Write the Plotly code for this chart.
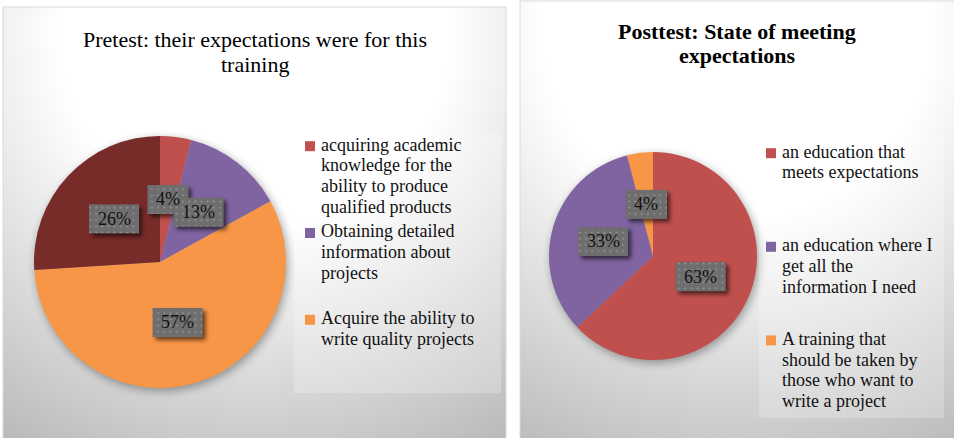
import base64
import math
import plotly.graph_objects as go

W, H = 954, 438

# ---------------- data ----------------
pre_title_lines = ["Pretest: their expectations were for this", "training"]
pre_labels = [
    "acquiring academic<br>knowledge for the<br>ability to produce<br>qualified products",
    "Obtaining detailed<br>information about<br>projects",
    "Acquire the ability to<br>write quality projects",
    "",
]
pre_values = [4, 13, 57, 26]
pre_colors = ["#C0504D", "#8064A2", "#F79646", "#772C2A"]

post_title_lines = ["Posttest: State of meeting", "expectations"]
post_labels = [
    "an education that<br>meets expectations",
    "an education where I<br>get all the<br>information I need",
    "A training that<br>should be taken by<br>those who want to<br>write a project",
]
post_values = [63, 33, 4]
post_colors = ["#C0504D", "#8064A2", "#F79646"]

# ---------------- layout constants (pixels) ----------------
FONT = "Liberation Serif"
panels = [
    dict(title=pre_title_lines, bold=False, labels=pre_labels, values=pre_values,
         colors=pre_colors, cx=160, cy=262, r=126,
         rect=(3, 7, 503, 440), tx=255, tbase=[47, 72],
         leg_rect=(294, 134, 207, 259), leg_x=319, leg_base=150.7,
         leg_slot=86.8, line_h=20.9),
    dict(title=post_title_lines, bold=True, labels=post_labels, values=post_values,
         colors=post_colors, cx=653, cy=256, r=104,
         rect=(520, 1, 440, 440), tx=737, tbase=[39, 63],
         leg_rect=(759, 137, 185, 281), leg_x=780, leg_base=157.7,
         leg_slot=93.6, line_h=20.8),
]


def X(px):
    return px / W


def Y(py):
    return 1 - py / H


fig = go.Figure()
annotations = []
shapes = []

bg_parts = []
bg_defs = []
up_defs = []
up_parts = []

bg_parts.append(f'<rect x="0" y="0" width="{W}" height="{H}" fill="#ffffff"/>')
bg_defs.append('<filter id="pshadow" x="-30%" y="-30%" width="160%" height="160%">'
               '<feGaussianBlur stdDeviation="5"/></filter>')
up_defs.append('<filter id="lshadow" x="-50%" y="-50%" width="200%" height="200%">'
               '<feGaussianBlur stdDeviation="2.2"/></filter>')
up_defs.append('<pattern id="dots" width="6.2" height="6.2" patternUnits="userSpaceOnUse">'
               '<rect width="6.2" height="6.2" fill="#6e6e6e"/>'
               '<rect x="2.3" y="2.3" width="1.6" height="1.6" fill="#9b9b9b"/></pattern>')

FS = 18
for i, p in enumerate(panels):
    x0, y0, w, h = p["rect"]
    pcx = x0 + w / 2 if i == 0 else 737
    bg_defs.append(
        f'<radialGradient id="g{i}" gradientUnits="userSpaceOnUse" cx="{pcx}" cy="{y0 + 25}" r="540">'
        '<stop offset="0" stop-color="#ffffff"/>'
        '<stop offset="0.36" stop-color="#ffffff"/>'
        '<stop offset="1" stop-color="#aaaaaa"/></radialGradient>')
    bg_parts.append(f'<rect x="{x0}" y="{y0}" width="{w}" height="{h}" fill="url(#g{i})" '
                    'stroke="#d9d9d9" stroke-width="1"/>')
    # pie shadow
    bg_parts.append(f'<circle cx="{p["cx"] + 2}" cy="{p["cy"] + 3}" r="{p["r"]}" fill="#000" '
                    'opacity="0.35" filter="url(#pshadow)"/>')
    lx, ly, lw, lh = p["leg_rect"]
    bg_parts.append(f'<rect x="{lx}" y="{ly}" width="{lw}" height="{lh}" fill="#ffffff" opacity="0.22"/>')

    # pie trace
    r = p["r"]
    fig.add_trace(go.Pie(
        values=p["values"], labels=[l.replace("<br>", " ") for l in p["labels"]],
        marker=dict(colors=p["colors"], line=dict(width=0)),
        sort=False, direction="clockwise", rotation=0, textinfo="none",
        showlegend=False, hoverinfo="label+percent",
        domain=dict(x=[X(p["cx"] - r), X(p["cx"] + r)],
                    y=[Y(p["cy"] + r), Y(p["cy"] - r)]),
    ))

    # title
    for k, line in enumerate(p["title"]):
        txt = f"<b>{line}</b>" if p["bold"] else line
        annotations.append(dict(
            text=txt, x=X(p["tx"]), y=Y(p["tbase"][k] - 0.34 * 22),
            xref="paper", yref="paper", xanchor="center", yanchor="middle",
            showarrow=False, font=dict(family=FONT, size=22, color="#000000")))

    # data labels
    total = sum(p["values"])
    cum = 0
    for v in p["values"]:
        mid = (cum + v / 2) / total * 2 * math.pi
        cum += v
        lxp = p["cx"] + 0.5 * r * math.sin(mid)
        lyp = p["cy"] - 0.5 * r * math.cos(mid)
        txt = f"{round(v / total * 100)}%"
        ndig = len(txt) - 1
        bw = FS * (0.5 * ndig + 0.833) + 17
        bh = 29
        bx, by = lxp - bw / 2, lyp - bh / 2
        up_parts.append(f'<rect x="{bx + 3}" y="{by + 3}" width="{bw}" height="{bh}" fill="#000" '
                        'opacity="0.6" filter="url(#lshadow)"/>')
        up_parts.append(f'<rect x="{bx}" y="{by}" width="{bw}" height="{bh}" fill="url(#dots)"/>')
        annotations.append(dict(
            text=txt, x=X(lxp), y=Y(lyp), xref="paper", yref="paper",
            xanchor="center", yanchor="middle", showarrow=False,
            font=dict(family=FONT, size=FS, color="#111111")))

    # legend
    slot = 0
    for lab, col in zip(p["labels"], p["colors"]):
        if not lab:
            continue
        base = p["leg_base"] + slot * p["leg_slot"]
        slot += 1
        shapes.append(dict(type="rect", xref="paper", yref="paper", layer="above",
                           x0=X(p["leg_x"] - 14), x1=X(p["leg_x"] - 4),
                           y0=Y(base + 0.5), y1=Y(base - 9.5),
                           fillcolor=col, line=dict(width=0)))
        for k, line in enumerate(lab.split("<br>")):
            annotations.append(dict(
                text=line, x=X(p["leg_x"]), y=Y(base + k * p["line_h"] - 0.34 * FS),
                xref="paper", yref="paper", xanchor="left", yanchor="middle",
                showarrow=False, font=dict(family=FONT, size=FS, color="#111111")))


def svg_uri(defs, parts):
    s = (f'<svg xmlns="http://www.w3.org/2000/svg" width="{W}" height="{H}" '
         f'viewBox="0 0 {W} {H}"><defs>{"".join(defs)}</defs>{"".join(parts)}</svg>')
    return "data:image/svg+xml;base64," + base64.b64encode(s.encode()).decode()


images = [
    dict(source=svg_uri(bg_defs, bg_parts), xref="paper", yref="paper", x=0, y=1,
         sizex=1, sizey=1, xanchor="left", yanchor="top", sizing="stretch", layer="below"),
    dict(source=svg_uri(up_defs, up_parts), xref="paper", yref="paper", x=0, y=1,
         sizex=1, sizey=1, xanchor="left", yanchor="top", sizing="stretch", layer="above"),
]

fig.update_layout(
    width=W, height=H, margin=dict(l=0, r=0, t=0, b=0),
    paper_bgcolor="#ffffff", plot_bgcolor="rgba(0,0,0,0)",
    annotations=annotations, shapes=shapes, images=images,
    showlegend=False,
)
fig.write_html(
    "out.html",
    config={"displayModeBar": False},
    post_script="document.body.style.margin='0px';document.body.style.padding='0px';"
                "document.body.style.overflow='hidden';",
)
